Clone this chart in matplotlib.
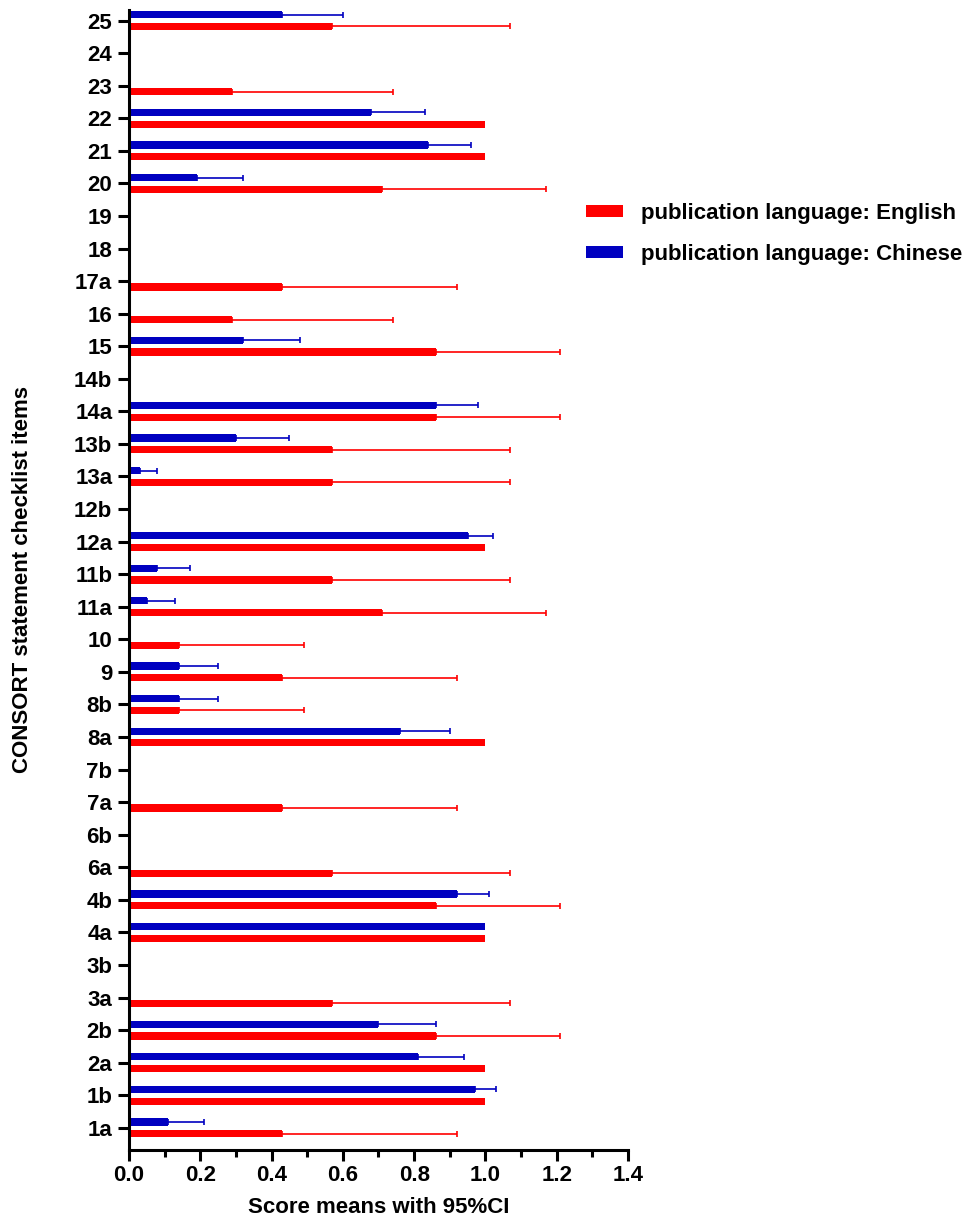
import numpy as np
import matplotlib
matplotlib.use("Agg")
import matplotlib.pyplot as plt

plt.rcParams['font.family'] = ['Liberation Sans', 'DejaVu Sans']
plt.rcParams['font.weight'] = 'bold'

# checklist items, bottom to top
items = ['1a', '1b', '2a', '2b', '3a', '3b', '4a', '4b', '6a', '6b', '7a', '7b',
         '8a', '8b', '9', '10', '11a', '11b', '12a', '12b', '13a', '13b', '14a',
         '14b', '15', '16', '17a', '18', '19', '20', '21', '22', '23', '24', '25']

nan = np.nan
# publication language: English (mean, upper 95% CI)
eng_mean = [0.43, 1.00, 1.00, 0.86, 0.57, nan, 1.00, 0.86, 0.57, nan, 0.43, nan,
            1.00, 0.14, 0.43, 0.14, 0.71, 0.57, 1.00, nan, 0.57, 0.57, 0.86,
            nan, 0.86, 0.29, 0.43, nan, nan, 0.71, 1.00, 1.00, 0.29, nan, 0.57]
eng_upper = [0.92, 1.00, 1.00, 1.21, 1.07, nan, 1.00, 1.21, 1.07, nan, 0.92, nan,
             1.00, 0.49, 0.92, 0.49, 1.17, 1.07, 1.00, nan, 1.07, 1.07, 1.21,
             nan, 1.21, 0.74, 0.92, nan, nan, 1.17, 1.00, 1.00, 0.74, nan, 1.07]
# publication language: Chinese (mean, upper 95% CI)
chn_mean = [0.11, 0.97, 0.81, 0.70, nan, nan, 1.00, 0.92, nan, nan, nan, nan,
            0.76, 0.14, 0.14, nan, 0.05, 0.08, 0.95, nan, 0.03, 0.30, 0.86,
            nan, 0.32, nan, nan, nan, nan, 0.19, 0.84, 0.68, nan, nan, 0.43]
chn_upper = [0.21, 1.03, 0.94, 0.86, nan, nan, 1.00, 1.01, nan, nan, nan, nan,
             0.90, 0.25, 0.25, nan, 0.13, 0.17, 1.02, nan, 0.08, 0.45, 0.98,
             nan, 0.48, nan, nan, nan, nan, 0.32, 0.96, 0.83, nan, nan, 0.60]

RED = '#FF0000'
BLUE = '#0000C0'
FS = 16

fig = plt.figure(figsize=(9.69, 12.24), dpi=100)
ax = fig.add_axes([0.1331, 0.0605, 0.515, 0.9315])

y = np.arange(len(items))
h = 0.22
off = 0.18

eng_mean = np.array(eng_mean); eng_upper = np.array(eng_upper)
chn_mean = np.array(chn_mean); chn_upper = np.array(chn_upper)

b1 = ax.barh(y - off, np.nan_to_num(eng_mean), height=h, color=RED,
             label='publication language: English')
b2 = ax.barh(y + off, np.nan_to_num(chn_mean), height=h, color=BLUE,
             label='publication language: Chinese')

# one-sided error bars (upper CI only)
for m, u, yy, c in [(eng_mean, eng_upper, y - off, RED), (chn_mean, chn_upper, y + off, BLUE)]:
    ok = ~np.isnan(m) & (u - m > 0.001)
    err = np.vstack([np.zeros(ok.sum()), (u - m)[ok]])
    ax.errorbar(m[ok], yy[ok], xerr=err, fmt='none', ecolor=c, elinewidth=1.2,
                capsize=2, capthick=1.2)

ax.set_xlim(0, 1.4)
ax.set_ylim(-0.68, 34.33)
ax.set_yticks(y)
ax.set_yticklabels(items)
ax.set_xticks(np.arange(0, 1.41, 0.2))
ax.set_xticklabels([f'{v:.1f}' for v in np.arange(0, 1.41, 0.2)])
ax.set_xticks(np.arange(0.1, 1.4, 0.2), minor=True)

for s in ['top', 'right']:
    ax.spines[s].set_visible(False)
for s in ['left', 'bottom']:
    ax.spines[s].set_linewidth(2.2)
ax.tick_params(axis='both', which='major', length=8, width=2.2, labelsize=FS)
ax.tick_params(axis='x', which='minor', length=5, width=2.2)
ax.tick_params(axis='x', pad=3)
ax.tick_params(axis='y', pad=4)

ax.set_xlabel('Score means with 95%CI', fontsize=FS, fontweight='bold')
ax.xaxis.set_label_coords(0.5, -0.041)
ax.set_ylabel('CONSORT statement checklist items', fontsize=FS, fontweight='bold')
ax.yaxis.set_label_coords(-0.193, 0.5)

fig.legend(handles=[b1, b2], loc='upper left', bbox_to_anchor=(0.605, 0.834),
           frameon=False, fontsize=FS, handlelength=1.67, handleheight=0.45,
           handletextpad=0.8, labelspacing=0.9, borderpad=0, borderaxespad=0)

fig.savefig('out.png', dpi=100)
